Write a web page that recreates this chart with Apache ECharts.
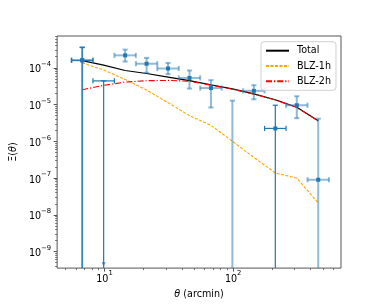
<!DOCTYPE html>
<html><head><meta charset="utf-8">
<script src="https://cdn.jsdelivr.net/npm/echarts@6/dist/echarts.min.js"></script>
<style>html,body{margin:0;padding:0;background:#fff}#c{width:379px;height:304px}</style>
</head><body><div id="c"></div>
<script>
// ---- data ----
const theta   = [6.72, 9.86, 14.48, 21.25, 31.19, 45.78, 67.2, 98.6, 144.8, 212.5, 311.9, 457.8];
const thetaLo = [5.55, 8.14, 11.95, 17.54, 25.74, 37.79, 55.47, 81.4, 119.5, 175.4, 257.5, 377.9];
const thetaHi = [8.14, 11.95, 17.54, 25.74, 37.79, 55.46, 81.4, 119.5, 175.4, 257.4, 377.9, 554.6];
// measured Xi(theta); null = value not shown on log scale
const xiVal = [1.60e-4, 4.4e-5, 2.18e-4, 1.29e-4, 9.57e-5, 5.3e-5, 2.81e-5, null, 2.36e-5, 2.24e-6, 9.58e-6, 9.0e-8];
const xiUp  = [3.6e-4, 4.4e-5, 3.13e-4, 1.86e-4, 1.36e-4, 8.45e-5, 4.62e-5, 1.28e-5, 3.36e-5, 9.6e-6, 1.68e-5, 4.13e-6];
// lower end of error bar; null = extends below the axis (non-positive)
const xiLo  = [null, null, 1.48e-4, 7.3e-5, 6.7e-5, 2.72e-5, 8.3e-6, null, 1.39e-5, null, 4.26e-6, null];
// groups of points
const groupA = [0, 2, 3, 4, 5, 6, 7, 8, 10, 11]; // pale bars
const groupB = [0, 1, 9];                        // solid bars
const limitIdx = [1];
const limitVal = [4.5e-10];
// model curves
const total = [1.57e-4, 1.18e-4, 8.45e-5, 7.0e-5, 5.6e-5, 4.5e-5, 3.43e-5, 2.67e-5, 1.96e-5, 1.35e-5, 8.45e-6, 3.6e-6];
const blz1h = [1.36e-4, 8.7e-5, 4.83e-5, 2.48e-5, 1.13e-5, 4.98e-6, 2.73e-6, 1.0e-6, 3.65e-7, 1.37e-7, 1.0e-7, 2.1e-8];
const blz2h = [2.54e-5, 3.33e-5, 4.08e-5, 4.46e-5, 4.54e-5, 4.3e-5, 3.36e-5, 2.62e-5, 1.92e-5, 1.33e-5, 8.3e-6, 3.55e-6];
// axes
const xTicks = [10, 100];
const yTicks = [1e-9, 1e-8, 1e-7, 1e-6, 1e-5, 1e-4];
const xRange = [4.29, 688];
const yRange = [3.55e-10, 7.33e-4];

function minors(lo, hi) {
  const out = [];
  for (let e = Math.floor(Math.log10(lo)); e <= Math.ceil(Math.log10(hi)); e++) {
    for (let m = 2; m <= 9; m++) {
      const v = m * Math.pow(10, e);
      if (v >= lo && v <= hi) out.push(v);
    }
  }
  return out;
}
const FONT = 'DejaVu Sans';
const BLUE = '#1f77b4';
const AXC = '#555';
const rich = {
  b: {fontSize: 9.6, fontFamily: FONT, color: '#000', lineHeight: 14, verticalAlign: 'bottom'},
  s: {fontSize: 6.8, fontFamily: FONT, color: '#000', lineHeight: 8, verticalAlign: 'top'}
};
function powFmt(v) {
  const e = Math.round(Math.log10(v));
  return '{b|10}{s|' + String(e).replace('-', '\u2212') + '}';
}

function makeRender(pale) {
  return function (params, api) {
    const i = api.value(2);
    const cs = params.coordSys;
    const bottom = cs.y + cs.height;
    const stroke = pale ? 'rgba(31,119,180,0.5)' : BLUE;
    const lw = pale ? 2 : 1.2;
    const cap = 2.6;
    const st = {stroke: stroke, lineWidth: lw};
    const ch = [];
    const top = api.coord([theta[i], xiUp[i]]);
    const bot = xiLo[i] == null ? [top[0], bottom] : api.coord([theta[i], xiLo[i]]);
    ch.push({type: 'line', shape: {x1: top[0], y1: top[1], x2: bot[0], y2: bot[1]}, style: st});
    ch.push({type: 'line', shape: {x1: top[0] - cap, y1: top[1], x2: top[0] + cap, y2: top[1]}, style: st});
    if (xiLo[i] != null) {
      ch.push({type: 'line', shape: {x1: bot[0] - cap, y1: bot[1], x2: bot[0] + cap, y2: bot[1]}, style: st});
    }
    if (xiVal[i] != null) {
      const l = api.coord([thetaLo[i], xiVal[i]]);
      const r = api.coord([thetaHi[i], xiVal[i]]);
      ch.push({type: 'line', shape: {x1: l[0], y1: l[1], x2: r[0], y2: r[1]}, style: st});
      ch.push({type: 'line', shape: {x1: l[0], y1: l[1] - cap, x2: l[0], y2: l[1] + cap}, style: st});
      ch.push({type: 'line', shape: {x1: r[0], y1: r[1] - cap, x2: r[0], y2: r[1] + cap}, style: st});
      if (limitIdx.indexOf(i) < 0) {
        const p = api.coord([theta[i], xiVal[i]]);
        ch.push({type: 'rect', shape: {x: p[0] - 2, y: p[1] - 2, width: 4, height: 4}, style: {fill: BLUE}});
      }
    }
    return {type: 'group', children: ch};
  };
}

const chart = echarts.init(document.getElementById('c'), null, {renderer: 'canvas'});
const xBase = {
  type: 'log', min: xRange[0], max: xRange[1], gridIndex: 0, position: 'bottom',
  splitLine: {show: false}
};
const yBase = {
  type: 'log', min: yRange[0], max: yRange[1], gridIndex: 0, position: 'left',
  splitLine: {show: false}
};
chart.setOption({
  animation: false,
  backgroundColor: '#fff',
  grid: {left: 47, right: 38, top: 36, bottom: 34, show: true, borderColor: AXC, borderWidth: 1, backgroundColor: 'transparent'},
  legend: {
    data: ['Total', 'BLZ-1h', 'BLZ-2h'],
    orient: 'vertical', left: 261, top: 41.7,
    itemWidth: 23, itemHeight: 10, itemGap: 5.3,
    padding: [4, 5, 4, 4],
    itemStyle: {opacity: 0},
    backgroundColor: 'rgba(255,255,255,0.8)', borderColor: '#d0d0d0', borderWidth: 1, borderRadius: 3,
    textStyle: {fontSize: 9.6, fontFamily: FONT, color: '#000', padding: [0, 0, 0, 3]}
  },
  xAxis: [
    Object.assign({}, xBase, {
      name: '{i|\u03b8}{n| (arcmin)}', nameLocation: 'middle', nameGap: 15,
      nameTextStyle: {rich: {
        i: {fontSize: 9.6, fontFamily: FONT, fontStyle: 'italic', color: '#000', lineHeight: 12},
        n: {fontSize: 9.6, fontFamily: FONT, color: '#000', lineHeight: 12}}},
      axisLine: {show: false},
      axisTick: {show: true, customValues: xTicks, length: 3.5, lineStyle: {color: AXC, width: 1}},
      axisLabel: {customValues: xTicks, formatter: powFmt, rich: rich, margin: 2}
    }),
    Object.assign({}, xBase, {
      axisLine: {show: false},
      axisTick: {show: true, customValues: minors(xRange[0], xRange[1]), length: 2, lineStyle: {color: AXC, width: 0.8}},
      axisLabel: {show: false}
    })
  ],
  yAxis: [
    Object.assign({}, yBase, {
      name: '{n|\u039e(}{i|\u03b8}{n|)}', nameLocation: 'middle', nameGap: 34,
      nameTextStyle: {rich: {
        i: {fontSize: 9.6, fontFamily: FONT, fontStyle: 'italic', color: '#000', lineHeight: 12},
        n: {fontSize: 9.6, fontFamily: FONT, color: '#000', lineHeight: 12}}},
      axisLine: {show: false},
      axisTick: {show: true, customValues: yTicks, length: 3.5, lineStyle: {color: AXC, width: 1}},
      axisLabel: {customValues: yTicks, formatter: powFmt, rich: rich, margin: 6}
    }),
    Object.assign({}, yBase, {
      axisLine: {show: false},
      axisTick: {show: true, customValues: minors(yRange[0], yRange[1]), length: 2, lineStyle: {color: AXC, width: 0.8}},
      axisLabel: {show: false}
    })
  ],
  series: [
    {name: 'Total', type: 'line', xAxisIndex: 0, yAxisIndex: 0, symbol: 'none', z: 2,
     data: theta.map((t, i) => [t, total[i]]), lineStyle: {color: '#000', width: 1.2}, itemStyle: {color: '#000'}},
    {name: 'BLZ-1h', type: 'line', xAxisIndex: 0, yAxisIndex: 0, symbol: 'none', z: 2,
     data: theta.map((t, i) => [t, blz1h[i]]), lineStyle: {color: '#ffa500', width: 1.1, type: [3, 1.5]}, itemStyle: {color: '#ffa500'}},
    {name: 'BLZ-2h', type: 'line', xAxisIndex: 0, yAxisIndex: 0, symbol: 'none', z: 2,
     data: theta.map((t, i) => [t, blz2h[i]]), lineStyle: {color: '#ff0000', width: 1.1, type: [6, 2, 1.2, 2]}, itemStyle: {color: '#ff0000'}},
    {name: 'errA', type: 'custom', xAxisIndex: 0, yAxisIndex: 0, z: 3,
     renderItem: makeRender(true), encode: {x: 0, y: 1},
     data: groupA.map(i => [theta[i], xiUp[i], i])},
    {name: 'errB', type: 'custom', xAxisIndex: 0, yAxisIndex: 0, z: 4,
     renderItem: makeRender(false), encode: {x: 0, y: 1},
     data: groupB.map(i => [theta[i], xiUp[i], i])},
    {name: 'limit', type: 'scatter', xAxisIndex: 0, yAxisIndex: 0, z: 5,
     symbol: 'triangle', symbolRotate: 180, symbolSize: 4, itemStyle: {color: BLUE},
     data: limitIdx.map((i, k) => [theta[i], limitVal[k]])}
  ]
});
</script></body></html>
